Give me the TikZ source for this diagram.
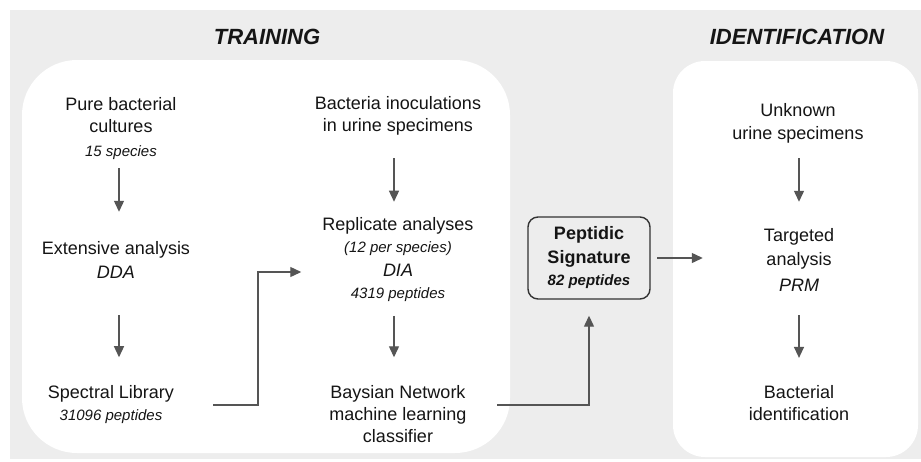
\documentclass[tikz,border=0pt]{standalone}
\usepackage{fontspec}
\setmainfont{Liberation Sans}
\usetikzlibrary{arrows.meta,calc}
\definecolor{bggrey}{HTML}{EDEDED}
\definecolor{txtc}{HTML}{151515}
\definecolor{arrgrey}{HTML}{555555}
\definecolor{boxc}{HTML}{333333}
\newcommand\smit{\fontsize{15}{18}\selectfont\itshape}
\begin{document}
\begin{tikzpicture}[x=1pt,y=-1pt,
  txt/.style={align=center, inner sep=0pt, text=txtc, font=\fontsize{18}{22}\selectfont},
  head/.style={inner sep=0pt, text=txtc, font=\fontsize{22}{26}\selectfont\bfseries\itshape},
  arr/.style={draw=arrgrey, line width=1.3pt, -{Triangle[length=11pt,width=10pt]}},
]
\useasboundingbox (0,0) rectangle (921,461);
\fill[bggrey] (10,10) rectangle (921,459);
\fill[white, rounded corners=55pt] (22,60) rectangle (510,453);
\fill[white, rounded corners=32pt] (673,61) rectangle (918,457);

\node[head] (train) at (267,37) {TRAINING};
\node[head] (ident) at (797,37) {IDENTIFICATION};

\coordinate (c1) at (119,0);
\coordinate (c2) at (394,0);
\coordinate (c3) at (799,0);
\coordinate (k1) at (258,0);

% column 1
\node[txt] (pure) at (121,128.5) {Pure bacterial\\cultures\\[2pt]{\smit 15 species}};
\node[txt] (ext) at (116,260) {Extensive analysis\\[2pt]\textit{DDA}};
\node[txt] (spec) at (111,405) {Spectral Library\\{\smit 31096 peptides}};

% column 2
\node[txt] (bact) at (398,115.5) {Bacteria inoculations\\in urine specimens};
\node[txt] (rep) at (398,260) {Replicate analyses\\{\smit (12 per species)}\\[2pt]\textit{DIA}\\{\smit 4319 peptides}};
\node[txt] (bayes) at (398,414.5) {Baysian Network\\machine learning\\classifier};

% signature
\node[draw=boxc, line width=1.4pt, rounded corners=10pt, minimum width=122pt, minimum height=82pt,
      align=center, inner sep=0pt, text=txtc, font=\fontsize{18}{22}\selectfont\bfseries] (pep) at (589,258)
      {Peptidic\\[2pt]Signature\\{\fontsize{15}{18}\selectfont\bfseries\itshape 82 peptides}};

% column 3
\node[txt] (unk) at (798,123) {Unknown\\[1pt]urine specimens};
\node[txt] (targ) at (799,260) {Targeted\\[2pt]analysis\\[4pt]\textit{PRM}};
\node[txt] (bacid) at (799,403) {Bacterial\\identification};

% vertical arrows
\draw[arr, shorten <=8.5pt, shorten >=29.5pt] (pure.south -| c1) -- (ext.north -| c1);
\draw[arr, shorten <=36.6pt, shorten >=28.5pt] (ext.south -| c1) -- (spec.north -| c1);
\draw[arr, shorten <=23pt, shorten >=16pt] (bact.south -| c2) -- (rep.north -| c2);
\draw[arr, shorten <=13.5pt, shorten >=28.4pt] (rep.south -| c2) -- (bayes.north -| c2);
\draw[arr, shorten <=15pt, shorten >=26.5pt] (unk.south -| c3) -- (targ.north -| c3);
\draw[arr, shorten <=23.6pt, shorten >=27.3pt] (targ.south -| c3) -- (bacid.north -| c3);

% elbow connectors
\draw[arr, shorten <=39pt, shorten >=21pt] (spec.east) -- (spec.east -| k1) |- ([yshift=-12pt]rep.west);
\draw[arr, shorten <=30.5pt, shorten >=16pt] ([yshift=9.5pt]bayes.east) -| (pep.south);
\draw[arr, shorten <=6.5pt, shorten >=61pt] (pep.east) -- (pep.east -| targ.west);
\end{tikzpicture}
\end{document}
